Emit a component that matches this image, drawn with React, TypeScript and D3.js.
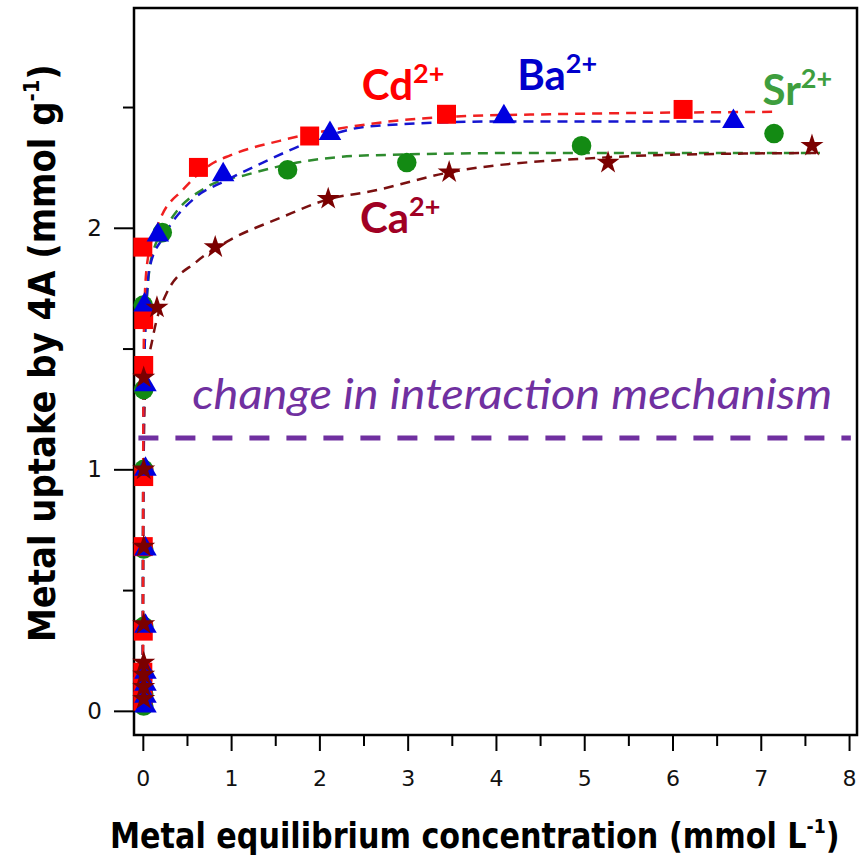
import React, { useEffect, useRef } from 'react'
import * as d3 from 'd3'

// axis ticks
const xTicks = [0, 1, 2, 3, 4, 5, 6, 7, 8]
const xMinorTicks = [0.5, 1.5, 2.5, 3.5, 4.5, 5.5, 6.5, 7.5]
const yTicks = [0, 1, 2]
const yMinorTicks = [0.5, 1.5, 2.5]

// measured points (conc in mmol/L, uptake in mmol/g)
const cdConc = [0, 0, 0, 0.005, 0.005, 0.01, 0.01, 0.01, 0, 0.63, 1.89, 3.44, 6.12]
const cdUptake = [0.04, 0.1, 0.16, 0.33, 0.68, 0.97, 1.43, 1.62, 1.92, 2.25, 2.38, 2.47, 2.49]
const baConc = [0.03, 0.03, 0.03, 0.03, 0.03, 0.03, 0.03, 0.03, 0.02, 0.17, 0.91, 2.12, 4.09, 6.69]
const baUptake = [0.02, 0.06, 0.11, 0.16, 0.35, 0.67, 1.0, 1.35, 1.68, 1.97, 2.22, 2.39, 2.46, 2.44]
const srConc = [0.01, 0.01, 0.01, 0.01, 0.01, 0.01, 0.01, 0.005, 0.22, 1.64, 2.99, 4.97, 7.15]
const srUptake = [0.02, 0.07, 0.15, 0.35, 0.67, 1.0, 1.33, 1.68, 1.98, 2.24, 2.27, 2.34, 2.39]
const caConc = [0.01, 0.01, 0.01, 0.01, 0.01, 0.01, 0.01, 0.01, 0.16, 0.82, 2.1, 3.47, 5.27, 7.58]
const caUptake = [0.05, 0.1, 0.15, 0.2, 0.36, 0.68, 1.0, 1.38, 1.67, 1.92, 2.12, 2.23, 2.27, 2.34]

// fitted isotherm curves
const cdFitConc = [0, 0.003, 0.008, 0.02, 0.06, 0.19, 0.46, 0.76, 0.99, 1.55, 2.57, 3.48, 4.61, 7.13]
const cdFitUptake = [0.02, 0.8, 1.4, 1.7, 1.88, 2.03, 2.16, 2.26, 2.3, 2.36, 2.43, 2.46, 2.47, 2.48]
const baFitConc = [0, 0.003, 0.01, 0.03, 0.08, 0.23, 0.61, 0.91, 1.36, 1.93, 2.57, 4.05, 6.77]
const baFitUptake = [0.02, 0.8, 1.3, 1.6, 1.84, 1.96, 2.13, 2.19, 2.27, 2.36, 2.42, 2.44, 2.44]
const srFitConc = [0, 0.003, 0.01, 0.03, 0.1, 0.31, 0.73, 1.18, 1.75, 2.57, 4.5, 7.67]
const srFitUptake = [0.02, 0.8, 1.3, 1.6, 1.88, 2.03, 2.17, 2.22, 2.27, 2.3, 2.31, 2.31]
const caFitConc = [0, 0.003, 0.008, 0.03, 0.11, 0.27, 0.61, 0.99, 1.55, 2.12, 2.57, 3.48, 5.18, 5.75, 7.67]
const caFitUptake = [0.02, 0.6, 1.0, 1.35, 1.54, 1.73, 1.86, 1.95, 2.04, 2.12, 2.15, 2.23, 2.29, 2.3, 2.31]

// ion labels (placed in data units)
const ionNames = ['Cd', 'Ba', 'Sr', 'Ca']
const ionLabelConc = [2.48, 4.24, 7.02, 2.46]
const ionLabelUptake = [2.53, 2.57, 2.51, 1.98]

const mechanismLevel = 1.13

const W = 860
const H = 859

// squeeze a text horizontally so it spans the wanted width
const fitWidth = (g: d3.Selection<SVGGElement, unknown, null, undefined>, base: string, target: number) => {
  const node = g.node()
  if (!node) return
  const w = node.getBBox().width
  g.attr('transform', `${base} scale(${target / w},1)`)
}

const App = () => {
  const ref = useRef<HTMLDivElement>(null)

  useEffect(() => {
    drawChart(ref.current)
  }, [])

  const drawChart = (element: HTMLDivElement | null) => {
    if (!element) return
    d3.select(element).select('svg').remove()

    const svg = d3.select(element)
      .append('svg')
      .attr('width', W)
      .attr('height', H)
      .style('position', 'absolute')
      .style('left', 0)
      .style('top', 0)
      .style('background', '#fff')

    const x = d3.scaleLinear().domain([-0.1, 8.09]).range([134, 857])
    const y = d3.scaleLinear().domain([-0.1, 2.91]).range([735, 8])

    // y ticks
    const yAxis = svg.append('g').attr('transform', `translate(${x(-0.1)},0)`)
      .call(d3.axisLeft(y).tickValues(yTicks).tickSize(20).tickPadding(12).tickFormat(d3.format('d')))
    yAxis.select('.domain').remove()
    yAxis.selectAll('line').attr('stroke', '#000').attr('stroke-width', 2)
    yAxis.selectAll('text').attr('font-family', 'DejaVu Sans').attr('font-size', 23).attr('fill', '#111')
    const yMin = svg.append('g').attr('transform', `translate(${x(-0.1)},0)`)
      .call(d3.axisLeft(y).tickValues(yMinorTicks).tickSize(11).tickFormat(() => ''))
    yMin.select('.domain').remove()
    yMin.selectAll('line').attr('stroke', '#000').attr('stroke-width', 2)

    // x ticks
    const xAxis = svg.append('g').attr('transform', `translate(0,${y(-0.1)})`)
      .call(d3.axisBottom(x).tickValues(xTicks).tickSize(16).tickPadding(19).tickFormat(d3.format('d')))
    xAxis.select('.domain').remove()
    xAxis.selectAll('line').attr('stroke', '#000').attr('stroke-width', 2)
    xAxis.selectAll('text').attr('font-family', 'DejaVu Sans').attr('font-size', 22).attr('fill', '#111')
    const xMin = svg.append('g').attr('transform', `translate(0,${y(-0.1)})`)
      .call(d3.axisBottom(x).tickValues(xMinorTicks).tickSize(11).tickFormat(() => ''))
    xMin.select('.domain').remove()
    xMin.selectAll('line').attr('stroke', '#000').attr('stroke-width', 2)

    // frame
    svg.append('rect')
      .attr('x', x(-0.1)).attr('y', y(2.91))
      .attr('width', x(8.09) - x(-0.1)).attr('height', y(-0.1) - y(2.91))
      .attr('fill', 'none').attr('stroke', '#000').attr('stroke-width', 2.5)

    // mechanism line and text
    svg.append('line')
      .attr('x1', x(-0.05)).attr('x2', x(8.02))
      .attr('y1', y(mechanismLevel)).attr('y2', y(mechanismLevel))
      .attr('stroke', '#7030A0').attr('stroke-width', 5).attr('stroke-dasharray', '20 17')
    svg.append('text')
      .attr('x', x(0.56)).attr('y', y(1.25))
      .attr('font-family', 'Lato').attr('font-style', 'italic').attr('font-size', 42)
      .attr('fill', '#7030A0')
      .attr('textLength', 640).attr('lengthAdjust', 'spacingAndGlyphs')
      .text('change in interaction mechanism')

    // fitted curves
    const line = d3.line<[number, number]>()
      .x(d => x(d[0])).y(d => y(d[1]))
      .curve(d3.curveMonotoneX)
    const fits = [
      { c: srFitConc, q: srFitUptake, color: '#2E8B2E' },
      { c: caFitConc, q: caFitUptake, color: '#7A1010' },
      { c: baFitConc, q: baFitUptake, color: '#1515D0' },
      { c: cdFitConc, q: cdFitUptake, color: '#F02020' },
    ]
    fits.forEach(f => {
      svg.append('path')
        .attr('d', line(f.c.map((c, i) => [c, f.q[i]] as [number, number])))
        .attr('fill', 'none').attr('stroke', f.color)
        .attr('stroke-width', 2.5).attr('stroke-dasharray', '10 7')
    })

    // markers
    const series = [
      { c: srConc, q: srUptake, color: '#138A13', sym: d3.symbolCircle, size: 300 },
      { c: cdConc, q: cdUptake, color: '#FF0000', sym: d3.symbolSquare, size: 360 },
      { c: baConc, q: baUptake, color: '#0000E0', sym: d3.symbolTriangle, size: 220 },
      { c: caConc, q: caUptake, color: '#7B0000', sym: d3.symbolStar, size: 165 },
    ]
    series.forEach(s => {
      const sym = d3.symbol().type(s.sym).size(s.size)
      svg.append('g').selectAll('path')
        .data(s.c.map((c, i) => [c, s.q[i]]))
        .enter()
        .append('path')
        .attr('d', sym)
        .attr('transform', d => `translate(${x(d[0])},${y(d[1])})`)
        .attr('fill', s.color)
    })

    // ion labels
    const labelColors = ['#FF0000', '#0000CC', '#3E9E3E', '#A00024']
    ionNames.forEach((name, i) => {
      const t = svg.append('text')
        .attr('x', x(ionLabelConc[i])).attr('y', y(ionLabelUptake[i]))
        .attr('font-family', 'Lato').attr('font-weight', 'bold').attr('font-size', 42)
        .attr('fill', labelColors[i])
      t.append('tspan').text(name)
      t.append('tspan').attr('dy', -17).attr('font-size', 27).text('2+')
    })

    // axis titles
    const xg = svg.append('g')
    const xt = xg.append('text')
      .attr('font-family', 'DejaVu Sans').attr('font-weight', 'bold').attr('font-size', 35)
      .attr('fill', '#000')
    xt.append('tspan').text('Metal equilibrium concentration (mmol L')
    xt.append('tspan').attr('dy', -15).attr('font-size', 20).text('-1')
    xt.append('tspan').attr('dy', 15).text(')')
    fitWidth(xg, 'translate(110,848)', 730)

    const yg = svg.append('g')
    const yt = yg.append('text')
      .attr('font-family', 'DejaVu Sans').attr('font-weight', 'bold').attr('font-size', 38)
      .attr('fill', '#000')
    yt.append('tspan').text('Metal uptake by 4A (mmol g')
    yt.append('tspan').attr('dy', -16).attr('font-size', 22).text('-1')
    yt.append('tspan').attr('dy', 16).text(')')
    fitWidth(yg, 'translate(55,642) rotate(-90)', 578)
  }

  return (
    <div ref={ref}></div>
  )
}

export default App
